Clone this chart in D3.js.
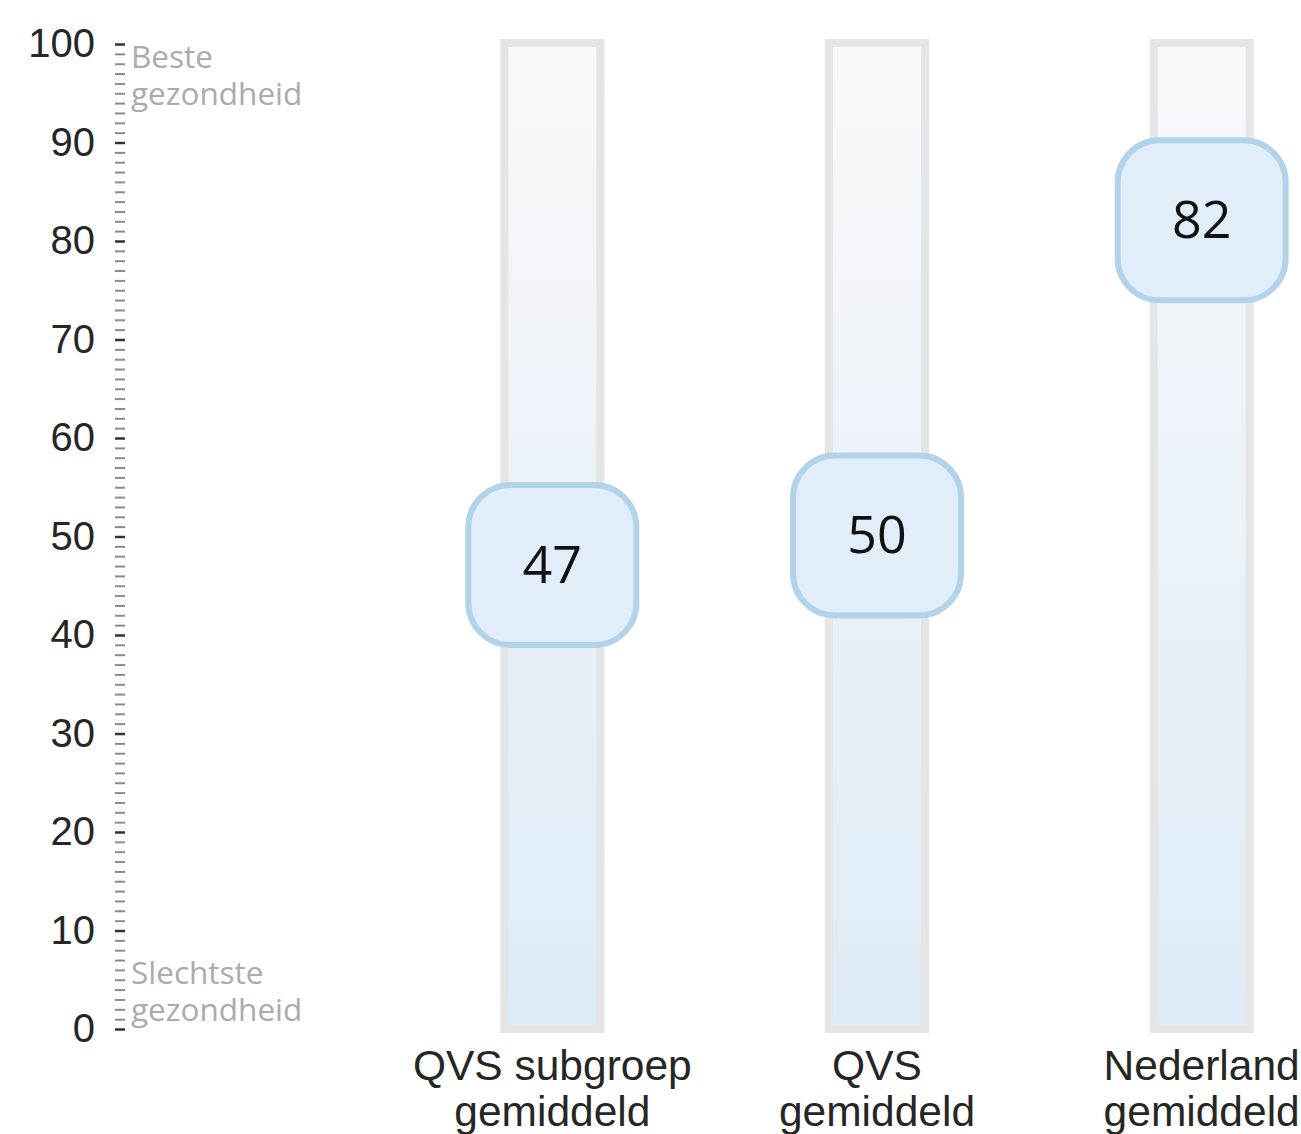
<!DOCTYPE html>
<html lang="nl">
<head>
<meta charset="utf-8">
<title>Gezondheid</title>
<script src="https://d3js.org/d3.v7.min.js"></script>
<style>
body { margin: 0; background: #fff; }
</style>
</head>
<body>
<script>
// data
const categories = [["QVS subgroep", "gemiddeld"], ["QVS", "gemiddeld"], ["Nederland", "gemiddeld"]];
const values = [47, 50, 82];
const tickLabels = [0, 10, 20, 30, 40, 50, 60, 70, 80, 90, 100];
const topNote = ["Beste", "gezondheid"];
const bottomNote = ["Slechtste", "gezondheid"];

const width = 1301, height = 1134;

const svg = d3.select("body").append("svg")
    .attr("width", width)
    .attr("height", height);

const y = d3.scaleLinear().domain([0, 100]).range([1029, 44]);
const x = d3.scaleBand()
    .domain(d3.range(categories.length))
    .range([390, 1364])
    .padding(0);

// gradient for the bars
const grad = svg.append("defs").append("linearGradient")
    .attr("id", "barGrad")
    .attr("x1", 0).attr("y1", 0).attr("x2", 0).attr("y2", 1);
grad.append("stop").attr("offset", "0%").attr("stop-color", "#f8f9fb");
grad.append("stop").attr("offset", "100%").attr("stop-color", "#ddebf6");

// y axis: minor ticks every 1, major every 10
const minorAxis = d3.axisRight(y)
    .tickValues(d3.range(0, 101, 1).filter(d => d % 10 !== 0))
    .tickSize(10)
    .tickFormat("");
const gMinor = svg.append("g").attr("transform", "translate(115,0)").call(minorAxis);
gMinor.select(".domain").remove();
gMinor.selectAll("line").attr("stroke", "#8a8a8a").attr("stroke-width", 2);

const majorAxis = d3.axisLeft(y)
    .tickValues(tickLabels)
    .tickSize(0)
    .tickPadding(20);
const gMajor = svg.append("g").attr("transform", "translate(115,0)").call(majorAxis);
gMajor.select(".domain").remove();
gMajor.selectAll("text")
    .attr("font-family", "Liberation Sans, Arial, sans-serif")
    .attr("font-size", 40)
    .attr("fill", "#262626");
gMajor.selectAll(".tick").append("line")
    .attr("x1", 0).attr("x2", 10)
    .attr("stroke", "#333").attr("stroke-width", 2.5);

// notes near the axis
function note(lines, baseY) {
    svg.append("g").selectAll("text").data(lines).join("text")
        .attr("x", 131)
        .attr("y", (d, i) => baseY + i * 37)
        .attr("font-family", "Open Sans, sans-serif")
        .attr("font-size", 31.5)
        .attr("fill", "#ababab")
        .text(d => d);
}
note(topNote, y(97.6));
note(bottomNote, y(4.6));

// bars
const cx = i => x(i) + x.bandwidth() / 2;
const barW = 96;
svg.append("g").selectAll("rect").data(values).join("rect")
    .attr("x", (d, i) => cx(i) - barW / 2)
    .attr("y", y(100) - 1)
    .attr("width", barW)
    .attr("height", y(0) - y(100) + 1)
    .attr("fill", "url(#barGrad)")
    .attr("stroke", "#e5e5e5")
    .attr("stroke-width", 8);

// value boxes
const boxW = 168, boxH = 160;
const boxes = svg.append("g").selectAll("g").data(values).join("g")
    .attr("transform", (d, i) => `translate(${cx(i)},${y(d) - 1})`);
boxes.append("rect")
    .attr("x", -boxW / 2).attr("y", -boxH / 2)
    .attr("width", boxW).attr("height", boxH)
    .attr("rx", 42).attr("ry", 42)
    .attr("fill", "#e1eef9")
    .attr("stroke", "#b2d3ea")
    .attr("stroke-width", 6);
boxes.append("text")
    .attr("text-anchor", "middle")
    .attr("dy", "0.34em")
    .attr("font-family", "Open Sans, sans-serif")
    .attr("font-size", 52)
    .attr("fill", "#111")
    .text(d => d);

// category labels
const labels = svg.append("g").selectAll("text").data(categories).join("text")
    .attr("text-anchor", "middle")
    .attr("font-family", "Liberation Sans, Arial, sans-serif")
    .attr("font-size", 42.5)
    .attr("fill", "#262626");
labels.selectAll("tspan").data((d, i) => d.map(t => ({t, i}))).join("tspan")
    .attr("x", d => cx(d.i))
    .attr("y", (d, j) => 1080 + j * 46)
    .text(d => d.t);
</script>
</body>
</html>
